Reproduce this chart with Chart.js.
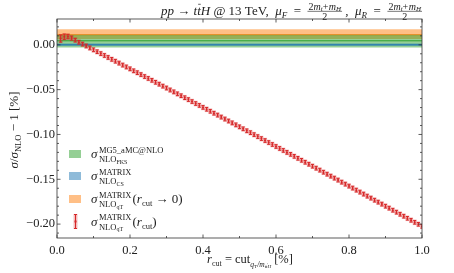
<!DOCTYPE html>
<html>
<head>
<meta charset="utf-8">
<script src="https://cdn.jsdelivr.net/npm/chart.js@4/dist/chart.umd.min.js"></script>
<style>
  html, body { margin: 0; padding: 0; background: #fff; }
  #wrap { width: 454px; height: 273px; position: relative; }
</style>
</head>
<body>
<div id="wrap"><canvas id="chart" width="454" height="273"></canvas></div>
<script>
// r_cut values [%]
const rcut = [
  0.01, 0.02, 0.03, 0.04, 0.05, 0.06, 0.07, 0.08, 0.09, 0.10,
  0.11, 0.12, 0.13, 0.14, 0.15, 0.16, 0.17, 0.18, 0.19, 0.20,
  0.21, 0.22, 0.23, 0.24, 0.25, 0.26, 0.27, 0.28, 0.29, 0.30,
  0.31, 0.32, 0.33, 0.34, 0.35, 0.36, 0.37, 0.38, 0.39, 0.40,
  0.41, 0.42, 0.43, 0.44, 0.45, 0.46, 0.47, 0.48, 0.49, 0.50,
  0.51, 0.52, 0.53, 0.54, 0.55, 0.56, 0.57, 0.58, 0.59, 0.60,
  0.61, 0.62, 0.63, 0.64, 0.65, 0.66, 0.67, 0.68, 0.69, 0.70,
  0.71, 0.72, 0.73, 0.74, 0.75, 0.76, 0.77, 0.78, 0.79, 0.80,
  0.81, 0.82, 0.83, 0.84, 0.85, 0.86, 0.87, 0.88, 0.89, 0.90,
  0.91, 0.92, 0.93, 0.94, 0.95, 0.96, 0.97, 0.98, 0.99, 1.00
];
// sigma/sigma_NLO - 1 [%] for MATRIX qT (r_cut)
const sigmaQT = [
  0.0070, 0.0090, 0.0092, 0.0075, 0.0052, 0.0029, 0.0008, -0.0013, -0.0035, -0.0056,
  -0.0077, -0.0098, -0.0119, -0.0141, -0.0162, -0.0183, -0.0204, -0.0226, -0.0247, -0.0268,
  -0.0290, -0.0311, -0.0332, -0.0354, -0.0375, -0.0396, -0.0418, -0.0439, -0.0461, -0.0482,
  -0.0504, -0.0525, -0.0547, -0.0568, -0.0590, -0.0611, -0.0633, -0.0655, -0.0676, -0.0698,
  -0.0719, -0.0741, -0.0763, -0.0784, -0.0806, -0.0828, -0.0850, -0.0871, -0.0893, -0.0915,
  -0.0937, -0.0959, -0.0980, -0.1002, -0.1024, -0.1046, -0.1068, -0.1090, -0.1112, -0.1134,
  -0.1156, -0.1178, -0.1200, -0.1222, -0.1244, -0.1266, -0.1288, -0.1310, -0.1332, -0.1354,
  -0.1376, -0.1398, -0.1421, -0.1443, -0.1465, -0.1487, -0.1509, -0.1532, -0.1554, -0.1576,
  -0.1598, -0.1621, -0.1643, -0.1665, -0.1688, -0.1710, -0.1733, -0.1755, -0.1777, -0.1800,
  -0.1822, -0.1845, -0.1867, -0.1890, -0.1912, -0.1935, -0.1957, -0.1980, -0.2002, -0.2025
];
const errQT = [
  0.0040, 0.0030, 0.0025, 0.0022, 0.0020, 0.0020, 0.0020, 0.0020, 0.0020, 0.0020,
  0.0020, 0.0020, 0.0020, 0.0020, 0.0020, 0.0020, 0.0020, 0.0020, 0.0020, 0.0020,
  0.0020, 0.0020, 0.0020, 0.0020, 0.0020, 0.0020, 0.0020, 0.0020, 0.0020, 0.0020,
  0.0020, 0.0020, 0.0020, 0.0020, 0.0020, 0.0020, 0.0020, 0.0020, 0.0020, 0.0020,
  0.0020, 0.0020, 0.0020, 0.0020, 0.0020, 0.0020, 0.0020, 0.0020, 0.0020, 0.0020,
  0.0020, 0.0020, 0.0020, 0.0020, 0.0020, 0.0020, 0.0020, 0.0020, 0.0020, 0.0020,
  0.0020, 0.0020, 0.0020, 0.0020, 0.0020, 0.0020, 0.0020, 0.0020, 0.0020, 0.0020,
  0.0020, 0.0020, 0.0020, 0.0020, 0.0020, 0.0020, 0.0020, 0.0020, 0.0020, 0.0020,
  0.0020, 0.0020, 0.0020, 0.0020, 0.0020, 0.0020, 0.0020, 0.0020, 0.0020, 0.0020,
  0.0020, 0.0020, 0.0020, 0.0020, 0.0020, 0.0020, 0.0020, 0.0020, 0.0020, 0.0020
];
// reference bands: [centre, low, high]
const bandFKS = [0.0045, -0.0030, 0.0111];
const bandCS = [0.0000, -0.0010, 0.0016];
const bandQT0 = [0.0112, 0.0066, 0.0175];

const xTicks = [0.0, 0.2, 0.4, 0.6, 0.8, 1.0];
const xMinor = [0.1, 0.3, 0.5, 0.7, 0.9];
const yTicks = [-0.20, -0.15, -0.10, -0.05, 0.00];
const yMinor = [-0.21, -0.19, -0.18, -0.17, -0.16, -0.14, -0.13, -0.12, -0.11, -0.09,
  -0.08, -0.07, -0.06, -0.04, -0.03, -0.02, -0.01, 0.01, 0.02];

const SERIF = '"Liberation Serif", "DejaVu Serif", serif';
const font = (sz, it) => (it ? 'italic ' : '') + sz + 'px ' + SERIF;
const RED = '#d62728';

// small rich text helper: segments with size / italic / vertical offset
function segs(ctx, list, x, y, draw) {
  let cx = x;
  for (const s of list) {
    if (s.frac) {
      const wn = segs(ctx, s.num, 0, 0, false), wd = segs(ctx, s.den, 0, 0, false);
      const w = Math.max(wn, wd) + 2;
      if (draw) {
        segs(ctx, s.num, cx + (w - wn) / 2, y - 5, true);
        segs(ctx, s.den, cx + (w - wd) / 2, y + 5, true);
        ctx.fillRect(cx, y - 3.6, w, 0.6);
      }
      cx += w;
      continue;
    }
    if (s.stack) {
      let w = 0;
      for (const part of s.stack) w = Math.max(w, segs(ctx, part, cx, y, draw));
      cx += w;
      continue;
    }
    ctx.font = font(s.s, s.i);
    const w = ctx.measureText(s.t).width;
    if (draw) {
      ctx.fillText(s.t, cx, y + (s.dy || 0));
      if (s.bar) ctx.fillRect(cx + 1, y + (s.dy || 0) - s.s * 0.82, w - 1, 0.7);
    }
    cx += w + (s.gap || 0);
  }
  return cx - x;
}

const band = (b, color, order) => ({
  type: 'line',
  data: [{ x: 0, y: b[2] }, { x: 1, y: b[2] }],
  borderWidth: 0,
  pointRadius: 0,
  backgroundColor: color,
  fill: { value: b[1] },
  order: order
});
const centre = (b, color, order) => ({
  type: 'line',
  data: [{ x: 0, y: b[0] }, { x: 1, y: b[0] }],
  borderWidth: 1,
  borderColor: color,
  pointRadius: 0,
  fill: false,
  order: order
});

const mH = [{ t: '2', s: 10 }, { t: 'm', s: 10, i: 1 }, { t: 't', s: 7, i: 1, dy: 1.5 },
  { t: '+', s: 10, gap: 0.5 }, { t: 'm', s: 10, i: 1 }, { t: 'H', s: 7, i: 1, dy: 1.5 }];

const decor = {
  id: 'decor',
  afterDatasetsDraw(chart) {
    const { ctx, chartArea: a, scales: { x, y } } = chart;
    ctx.save();
    // error bars
    ctx.beginPath();
    ctx.rect(a.left, a.top, a.right - a.left, a.bottom - a.top);
    ctx.clip();
    rcut.forEach((r, i) => {
      const px = x.getPixelForValue(r);
      const lo = y.getPixelForValue(sigmaQT[i] - errQT[i]);
      const hi = y.getPixelForValue(sigmaQT[i] + errQT[i]);
      ctx.fillStyle = 'rgba(214,39,40,0.3)';
      ctx.fillRect(px - 2, hi - 1, 4, lo - hi + 2);
      ctx.strokeStyle = RED;
      ctx.lineWidth = 1;
      ctx.beginPath();
      ctx.moveTo(px, hi); ctx.lineTo(px, lo);
      ctx.moveTo(px - 1.5, hi); ctx.lineTo(px + 1.5, hi);
      ctx.moveTo(px - 1.5, lo); ctx.lineTo(px + 1.5, lo);
      ctx.stroke();
    });
    ctx.restore();

    ctx.save();
    // frame and inward ticks
    ctx.strokeStyle = '#333';
    ctx.lineWidth = 0.8;
    ctx.strokeRect(a.left, a.top, a.right - a.left, a.bottom - a.top);
    ctx.beginPath();
    const tx = (vals, len) => vals.forEach(v => {
      const p = x.getPixelForValue(v);
      ctx.moveTo(p, a.bottom); ctx.lineTo(p, a.bottom - len);
      ctx.moveTo(p, a.top); ctx.lineTo(p, a.top + len);
    });
    const ty = (vals, len) => vals.forEach(v => {
      const p = y.getPixelForValue(v);
      ctx.moveTo(a.left, p); ctx.lineTo(a.left + len, p);
      ctx.moveTo(a.right, p); ctx.lineTo(a.right - len, p);
    });
    tx(xTicks, 3.5); tx(xMinor, 2);
    ty(yTicks, 3.5); ty(yMinor, 2);
    ctx.stroke();

    ctx.fillStyle = '#222';
    ctx.textBaseline = 'alphabetic';
    // title
    const title = [
      { t: 'pp', s: 13, i: 1 }, { t: ' \u2192 ', s: 13 }, { t: 't', s: 13, i: 1 },
      { t: 't', s: 13, i: 1, bar: 1 }, { t: 'H', s: 13, i: 1 }, { t: ' @ 13 TeV,  ', s: 13 },
      { t: '\u03bc', s: 13, i: 1 }, { t: 'F', s: 9, i: 1, dy: 3 }, { t: '  =  ', s: 13 },
      { frac: 1, num: mH, den: [{ t: '2', s: 10 }] },
      { t: ' ,  ', s: 13 },
      { t: '\u03bc', s: 13, i: 1 }, { t: 'R', s: 9, i: 1, dy: 3 }, { t: '  =  ', s: 13 },
      { frac: 1, num: mH, den: [{ t: '2', s: 10 }] }
    ];
    const tw = segs(ctx, title, 0, 0, false);
    segs(ctx, title, a.right - tw, 14.5, true);

    // x label
    const xl = [
      { t: 'r', s: 12.5, i: 1 }, { t: 'cut', s: 8, dy: 3 }, { t: ' = cut', s: 12.5 },
      { t: 'q', s: 7.5, i: 1, dy: 3.5 }, { t: 'T', s: 5, dy: 4.5 }, { t: '/m', s: 7.5, i: 1, dy: 3.5 },
      { t: 't', s: 5, i: 1, dy: 4.5 }, { t: 't', s: 5, i: 1, dy: 4.5, bar: 1 }, { t: 'H', s: 5, i: 1, dy: 4.5 },
      { t: ' [%]', s: 12.5 }
    ];
    const xw = segs(ctx, xl, 0, 0, false);
    segs(ctx, xl, 250 - xw / 2, 263, true);

    // y label
    const yl = [
      { t: '\u03c3', s: 13, i: 1 }, { t: '/', s: 13 }, { t: '\u03c3', s: 13, i: 1 },
      { t: 'NLO', s: 8.5, dy: 3 }, { t: ' \u2212 1 [%]', s: 13 }
    ];
    const yw = segs(ctx, yl, 0, 0, false);
    ctx.save();
    ctx.translate(18, 130);
    ctx.rotate(-Math.PI / 2);
    segs(ctx, yl, -yw / 2, 0, true);
    ctx.restore();

    // legend
    const rows = [
      { c: 'rgba(44,160,44,0.5)', sup: 'MG5_aMC@NLO', sub: 'FKS', tail: [] },
      { c: 'rgba(31,119,180,0.5)', sup: 'MATRIX', sub: 'CS', tail: [] },
      { c: 'rgba(255,127,14,0.5)', sup: 'MATRIX', sub: 'qT',
        tail: [{ t: '(', s: 13 }, { t: 'r', s: 13, i: 1 }, { t: 'cut', s: 8.5, dy: 3 }, { t: ' \u2192 0)', s: 13 }] },
      { c: null, sup: 'MATRIX', sub: 'qT',
        tail: [{ t: '(', s: 13 }, { t: 'r', s: 13, i: 1 }, { t: 'cut', s: 8.5, dy: 3 }, { t: ')', s: 13 }] }
    ];
    const rowY = [154, 176, 199, 221.5];
    rows.forEach((row, k) => {
      const cy = rowY[k];
      if (row.c) {
        ctx.fillStyle = row.c;
        ctx.fillRect(69, cy - 4, 12, 8);
      } else {
        ctx.fillStyle = 'rgba(214,39,40,0.3)';
        ctx.fillRect(73.5, cy - 7.5, 4, 15);
        ctx.strokeStyle = RED;
        ctx.lineWidth = 1;
        ctx.beginPath();
        ctx.moveTo(75.5, cy - 7); ctx.lineTo(75.5, cy + 7);
        ctx.moveTo(74, cy - 7); ctx.lineTo(77, cy - 7);
        ctx.moveTo(74, cy + 7); ctx.lineTo(77, cy + 7);
        ctx.stroke();
        ctx.fillStyle = RED;
        ctx.fillRect(74.5, cy - 1, 2, 2);
      }
      ctx.fillStyle = '#222';
      const line = [
        { t: '\u03c3', s: 13, i: 1, gap: 1.5 },
        { stack: [
          [{ t: row.sup, s: 8.5, dy: -5.5 }],
          [{ t: 'NLO', s: 8.5, dy: 4 }, { t: row.sub, s: 6, dy: 5.5 }]
        ] },
        { t: '', s: 8, gap: 1 },
        ...row.tail
      ];
      segs(ctx, line, 91, cy + 4, true);
    });
    ctx.restore();
  }
};

new Chart(document.getElementById('chart'), {
  type: 'scatter',
  data: {
    datasets: [
      centre(bandCS, '#1f77b4', 1),
      band(bandCS, 'rgba(31,119,180,0.5)', 2),
      centre(bandFKS, '#2ca02c', 3),
      band(bandFKS, 'rgba(44,160,44,0.5)', 4),
      centre(bandQT0, '#ff7f0e', 5),
      band(bandQT0, 'rgba(255,127,14,0.5)', 6),
      {
        type: 'scatter',
        data: rcut.map((r, i) => ({ x: r, y: sigmaQT[i] })),
        pointRadius: 1,
        pointBackgroundColor: RED,
        pointBorderWidth: 0,
        order: 0
      }
    ]
  },
  options: {
    responsive: false,
    animation: false,
    layout: { padding: { top: 19, right: 32, left: 0, bottom: 0 } },
    plugins: { legend: { display: false }, tooltip: { enabled: false } },
    scales: {
      x: {
        type: 'linear',
        min: 0, max: 1,
        grid: { display: false, drawTicks: false },
        border: { display: false },
        afterBuildTicks: s => { s.ticks = xTicks.map(v => ({ value: v })); },
        afterFit: s => { s.height = 35; },
        ticks: {
          padding: 5,
          color: '#222',
          font: { family: SERIF, size: 12.5 },
          callback: v => v.toFixed(1)
        }
      },
      y: {
        min: -0.2155, max: 0.0288,
        grid: { display: false, drawTicks: false },
        border: { display: false },
        afterBuildTicks: s => { s.ticks = yTicks.map(v => ({ value: v })); },
        afterFit: s => { s.width = 57; },
        ticks: {
          padding: 2,
          color: '#222',
          font: { family: SERIF, size: 12.5 },
          callback: v => (v < 0 ? '\u2212' : '') + Math.abs(v).toFixed(2)
        }
      }
    }
  },
  plugins: [decor]
});
</script>
</body>
</html>
